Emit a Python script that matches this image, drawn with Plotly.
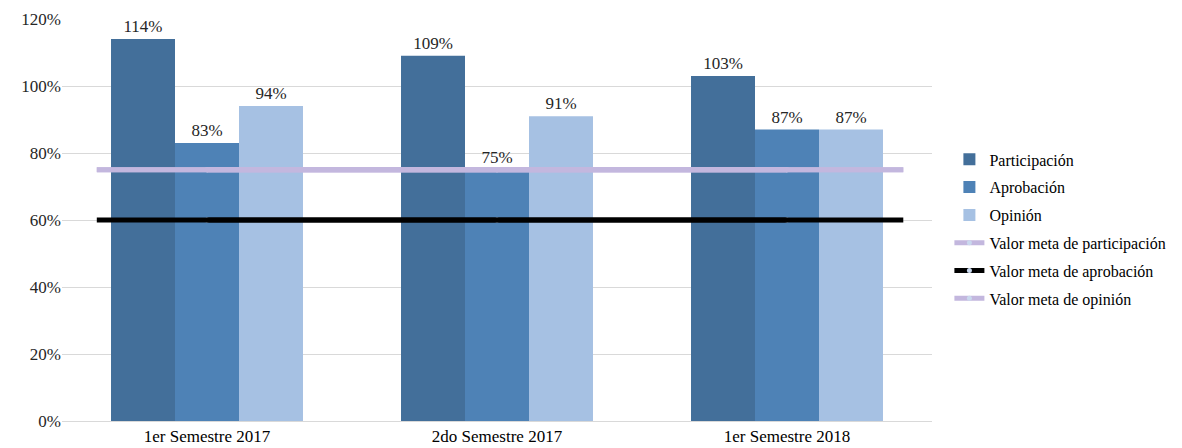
import plotly.graph_objects as go

categories = ["1er Semestre 2017", "2do Semestre 2017", "1er Semestre 2018"]
participacion = [1.14, 1.09, 1.03]
aprobacion = [0.83, 0.75, 0.87]
opinion = [0.94, 0.91, 0.87]
meta_participacion = [0.75, 0.75, 0.75]
meta_aprobacion = [0.60, 0.60, 0.60]
meta_opinion = [0.75, 0.75, 0.75]

FONT = "Liberation Serif"
fig = go.Figure()

bar_series = [
    ("Participación", participacion, "#436F9A"),
    ("Aprobación", aprobacion, "#4E82B6"),
    ("Opinión", opinion, "#A6C1E3"),
]
for name, vals, col in bar_series:
    fig.add_trace(go.Bar(
        name=name, x=categories, y=vals, marker_color=col, marker_line_width=0,
        legendgroup=name,
        text=[f"{v*100:.0f}%" for v in vals], textposition="outside",
        textfont=dict(family=FONT, size=17, color="#262626"), cliponaxis=False,
    ))

line_series = [
    ("Valor meta de participación", meta_participacion, "#C3B7DE", "#C9D8EE"),
    ("Valor meta de aprobación", meta_aprobacion, "#000000", "#C9D8EE"),
    ("Valor meta de opinión", meta_opinion, "#C3B7DE", "#C9D8EE"),
]
for name, vals, col, mcol in line_series:
    # extended target line across the plot
    fig.add_shape(type="line", xref="paper", yref="y", x0=0.04, x1=0.967,
                  y0=vals[0], y1=vals[-1], line=dict(color=col, width=5), layer="above")
    fig.add_trace(go.Scatter(
        name=name, x=categories, y=vals, mode="lines+markers", legendgroup=name,
        line=dict(color=col, width=5), marker=dict(color=mcol, size=5),
    ))

fig.update_layout(
    width=1182, height=448,
    margin=dict(l=62, r=250, t=19, b=27, autoexpand=False),
    paper_bgcolor="white", plot_bgcolor="white",
    barmode="group", bargap=0.338, bargroupgap=0,
    font=dict(family=FONT, size=16, color="#262626"),
    showlegend=True,
    legend=dict(x=1.02, y=0.693, xanchor="left", yanchor="top",
                font=dict(family=FONT, size=16, color="#000000"),
                tracegroupgap=4, itemwidth=30),
    xaxis=dict(showgrid=False, showline=True, linecolor="#D9D9D9", linewidth=1,
               automargin=False,
               ticks="", tickfont=dict(family=FONT, size=17, color="#000000")),
    yaxis=dict(range=[0, 1.2], dtick=0.2, tickformat=".0%", showgrid=True,
               automargin=False,
               gridcolor="#D9D9D9", gridwidth=1, zeroline=False, showline=False,
               ticks="", tickfont=dict(family=FONT, size=17, color="#262626")),
)

fig.write_html("out.html", config={"displayModeBar": False},
               post_script="document.body.style.margin='0';document.body.style.overflow='hidden';")
